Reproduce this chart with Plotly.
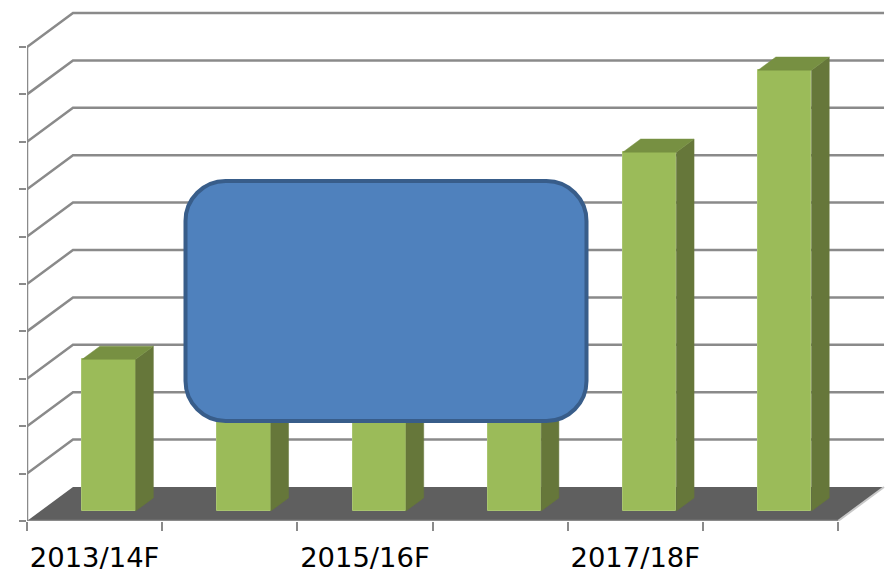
import plotly.graph_objects as go

categories = ["2013/14F", "2014/15F", "2015/16F", "2016/17F", "2017/18F", "2018/19F"]
values = [3.2, 4.0, 4.6, 5.5, 7.57, 9.3]   # bars 2-4 tops are hidden by the box: estimated
label_cats = ["2013/14F", "2015/16F", "2017/18F"]
gridlines = list(range(0, 11))

W, H = 891, 570
LEFT, BOTTOM = 27, 521
CAT_PX, UNIT_PX = 135.17, 47.4
DX, DY = 46 / CAT_PX, 34 / UNIT_PX      # wall depth in data units
D0, D1 = 0.294, 0.68                    # bar front / back depth fraction
BAR_W = 0.395
BAR_SHIFT = 0.006
GRID = "#8A8A8A"
n = len(categories)


def px_x(p):
    return (p - LEFT) / CAT_PX


def px_y(p):
    return (BOTTOM - p) / UNIT_PX


fig = go.Figure()

x0s = [i + 0.5 + DX * D0 + BAR_SHIFT for i in range(n)]
fig.add_trace(go.Bar(x=x0s, y=values, base=[DY * D0] * n, width=BAR_W,
                     marker=dict(color="#9BBB59", line=dict(color="#A9C56F", width=1)),
                     hoverinfo="skip"))

shift_x, shift_y = DX * (D1 - D0), DY * (D1 - D0)
for xc, v in zip(x0s, values):
    l, r = xc - BAR_W / 2, xc + BAR_W / 2
    b, t = DY * D0, DY * D0 + v
    # side face
    fig.add_trace(go.Scatter(x=[r, r + shift_x, r + shift_x, r, r],
                             y=[b, b + shift_y, t + shift_y, t, b],
                             mode="lines", fill="toself", fillcolor="#66773A",
                             line=dict(color="#66773A", width=0.5), hoverinfo="skip"))
    # top face
    fig.add_trace(go.Scatter(x=[l, r, r + shift_x, l + shift_x, l],
                             y=[t, t, t + shift_y, t + shift_y, t],
                             mode="lines", fill="toself", fillcolor="#779042",
                             line=dict(color="#779042", width=0.5), hoverinfo="skip"))

shapes = []
# floor
shapes.append(dict(type="path", layer="below", line=dict(width=0), fillcolor="#5F5F5F",
                   path=f"M 0 0 L {n} 0 L {n + DX} {DY} L {DX} {DY} Z"))
# gridlines (diagonal + back wall)
for g in gridlines:
    if g == 0:
        shapes.append(dict(type="line", layer="below", x0=n, y0=0, x1=n + DX, y1=DY,
                           line=dict(color="#C8C8C8", width=2)))
        continue
    shapes.append(dict(type="path", layer="below", line=dict(color=GRID, width=2.5),
                       path=f"M 0 {g} L {DX} {g + DY} L {n + DX} {g + DY}"))
# axis lines
shapes.append(dict(type="line", layer="below", x0=0, y0=0, x1=0, y1=gridlines[-1],
                   line=dict(color=GRID, width=2.5)))
shapes.append(dict(type="line", layer="below", x0=0, y0=0, x1=n, y1=0,
                   line=dict(color=GRID, width=2.5)))

# rounded blue box covering the middle of the chart
bx0, bx1, by0, by1 = px_x(185.5), px_x(586.5), px_y(421), px_y(181)
rx, ry = 40 / CAT_PX, 40 / UNIT_PX
kx, ky = rx * 0.45, ry * 0.45
shapes.append(dict(
    type="path", layer="above", fillcolor="#4F81BD", line=dict(color="#385D8A", width=4),
    path=(f"M {bx0 + rx} {by1} L {bx1 - rx} {by1} "
          f"C {bx1 - kx} {by1} {bx1} {by1 - ky} {bx1} {by1 - ry} "
          f"L {bx1} {by0 + ry} C {bx1} {by0 + ky} {bx1 - kx} {by0} {bx1 - rx} {by0} "
          f"L {bx0 + rx} {by0} C {bx0 + kx} {by0} {bx0} {by0 + ky} {bx0} {by0 + ry} "
          f"L {bx0} {by1 - ry} C {bx0} {by1 - ky} {bx0 + kx} {by1} {bx0 + rx} {by1} Z")))

label_pos = [categories.index(c) + 0.5 for c in label_cats]

fig.update_layout(
    width=W, height=H, autosize=False, showlegend=False,
    margin=dict(l=LEFT, r=0, t=0, b=H - BOTTOM, pad=0, autoexpand=False),
    paper_bgcolor="white", plot_bgcolor="white",
    font=dict(family="DejaVu Sans", color="#000000", size=27),
    shapes=shapes, bargap=0,
    xaxis=dict(range=[0, (W - LEFT) / CAT_PX], showgrid=False, zeroline=False, showline=False,
               automargin=False,
               tickmode="array", tickvals=label_pos, ticktext=label_cats,
               ticks="outside", ticklen=12, tickcolor="rgba(0,0,0,0)", tickwidth=2,
               tickfont=dict(size=27.4, family="DejaVu Sans"), ticklabelposition="outside",
               minor=dict(tickmode="array", tickvals=list(range(n + 1)), ticks="outside",
                          ticklen=9, tickcolor=GRID, tickwidth=2, showgrid=False)),
    yaxis=dict(range=[0, BOTTOM / UNIT_PX], showgrid=False, zeroline=False, showline=False,
               automargin=False,
               tickmode="array", tickvals=gridlines, ticktext=[""] * len(gridlines),
               ticks="outside", ticklen=7, tickcolor=GRID, tickwidth=2),
)

fig.write_html("out.html", post_script="document.body.style.margin='0';",
               config={"displayModeBar": False})
